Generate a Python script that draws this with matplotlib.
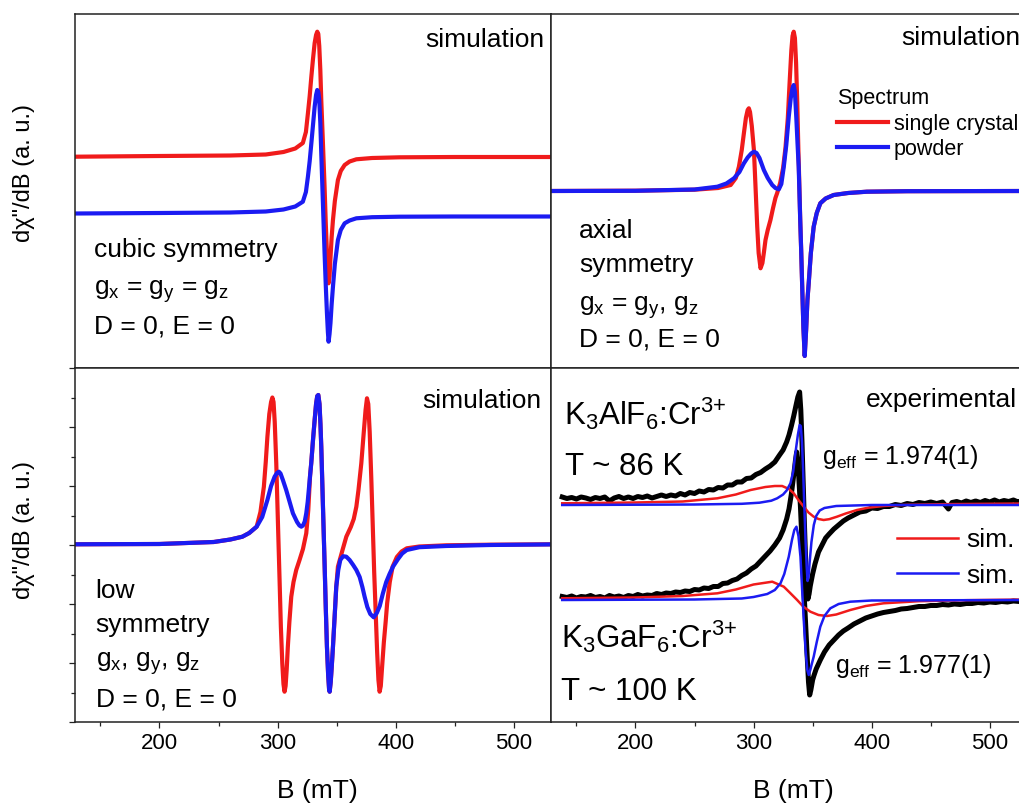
import matplotlib
matplotlib.use('Agg')
import matplotlib.pyplot as plt
from matplotlib.ticker import MultipleLocator

plt.rcParams['font.family'] = ['Liberation Sans', 'DejaVu Sans']
plt.rcParams['mathtext.fontset'] = 'custom'
plt.rcParams['mathtext.rm'] = 'Liberation Sans'
plt.rcParams['mathtext.it'] = 'Liberation Sans'
plt.rcParams['mathtext.bf'] = 'Liberation Sans:bold'

# ---------------- data (B in mT, intensity in arbitrary units) ----------------
B_RANGE = (128.5, 531.5)
Y_RANGE = (0, 354)

# cubic symmetry (top-left)
cubic_B = [128.5, 200, 260, 290, 305, 315, 321.4, 324, 325.7, 327.2, 328.6, 330, 331.4, 332.6,
           333.6, 334.5, 335.3, 336.2, 337.0, 338.4, 339.8, 340.8, 341.8, 342.6, 343.2, 344.0,
           344.8, 345.8, 346.9, 348.5, 351.1, 353.5, 356.8, 361, 366.7, 380, 403.4, 450, 531.5]
cubic_single = [211.3, 212, 212.5, 213.5, 216, 219.5, 225, 236, 254.7, 272, 291.3, 309, 325, 333,
                336.3, 334, 322, 298, 268, 225, 181.3, 145, 115, 92, 84.7, 92, 110, 131, 148, 167,
                188, 197, 203, 206.5, 208.7, 210, 210.7, 211, 211]
cubic_powder = [154.5, 155, 155.5, 156.5, 158.5, 161.5, 166.3, 176, 191.3, 207, 224.7, 243, 261.3,
                273, 278, 276, 268, 245, 214.7, 165, 115, 83, 55, 36, 26.3, 34, 45, 64, 81.3, 104,
                128, 138, 144.7, 147.5, 149.7, 150.8, 151.3, 151.5, 151.5]

# axial symmetry (top-right)
axial_single_B = [128.5, 200, 250, 270, 280.6, 285, 287.6, 290, 291.8, 293.5, 295, 296, 297, 298.5,
                  300.3, 301.7, 303.1, 304.3, 305.9, 307.5, 308.8, 310.1, 312, 314.3, 316.5, 318.5,
                  320, 322.5, 325, 327, 329, 330.5, 332, 333, 334, 335, 336, 337, 338, 338.6, 339.5,
                  340.3, 341.1, 342.2, 343.3, 344.5, 345.6, 346.7, 348.5, 350.9, 353.5, 356.5, 361,
                  367.8, 380, 395.9, 430, 531.5]
axial_single = [177, 177.3, 178.3, 180, 183, 190, 201.3, 218, 234.7, 250, 258, 259.7, 256, 242, 218,
                180, 141.3, 115, 99.7, 105, 116, 128, 138, 148, 160, 170, 175, 185, 200, 220, 250,
                285, 318, 332, 336.3, 330, 305, 265, 215, 190, 148, 118, 84.7, 40, 12, 38, 68, 85,
                115, 141.3, 155, 164.7, 169.5, 173, 175, 176.3, 176.8, 177]
axial_powder_B = [128.5, 200, 250, 269.4, 277, 283.4, 288, 291.8, 295, 298, 300.3, 302.5, 305, 308.7,
                  312, 315.8, 318.5, 321.4, 323.5, 325.6, 327.7, 329.8, 331.5, 333, 334, 335, 336.2,
                  337.2, 338.2, 339.5, 340.3, 341.1, 342.2, 343.3, 344.5, 345.6, 346.7, 348.5, 350.9,
                  353.5, 356.5, 361, 367.8, 380, 395.9, 430, 531.5]
axial_powder = [177, 177.2, 178.5, 181.3, 184.5, 189.7, 196, 204.7, 210.5, 214.5, 216.3, 215, 210,
                198, 190, 183, 180, 178.7, 184, 201.3, 223, 251.3, 270, 280, 283, 276, 250, 225,
                201.3, 148, 118, 84.7, 40, 12, 38, 68, 85, 115, 141.3, 155, 164.7, 169.5, 173, 175,
                176.3, 176.8, 177]

# low symmetry (bottom-left)
low_single_B = [128.5, 200, 246, 260, 270.2, 276, 282.3, 285.5, 288.4, 290, 291.4, 293, 294.5, 295.6,
                296.6, 297.6, 298.9, 300.3, 301.7, 302.8, 304, 305, 305.9, 306.8, 307.7, 308.7, 310,
                311.6, 313.5, 315.8, 318.6, 321.5, 324.3, 326, 327.5, 328.5, 330, 331.4, 332.6,
                333.6, 334.5, 335.5, 336.3, 337, 338.4, 339.8, 340.8, 341.8, 342.8, 343.6, 344.1,
                345, 345.9, 346.9, 348.3, 349.7, 351.1, 355, 358.2, 362, 364.5, 366.7, 368.5, 370.9,
                373, 374.5, 375.7, 376.8, 378, 379.4, 380.5, 381.8, 383.1, 384.3, 385.4, 386.4,
                387.4, 388.5, 390, 391.5, 392.8, 395, 397.4, 401, 405, 409.4, 420, 442.7, 480, 531.5]
low_single = [177.7, 178, 180, 182.5, 185.3, 189, 195.3, 210, 235.3, 260, 285.3, 308, 320, 324.5,
              320, 300, 258.7, 200, 142, 95, 58.7, 38, 30.3, 36, 52, 75.3, 100, 125.3, 140, 152,
              162, 173, 188.7, 212, 246, 258.7, 282, 302, 318, 326, 327, 318, 298, 275.3, 217,
              158.7, 115, 75.3, 48, 33, 30.3, 40, 56, 75.3, 105, 135.3, 155.3, 172, 185.3, 195,
              203, 215.3, 232, 258.7, 290, 312, 323.7, 318, 290, 242, 200, 150, 108.7, 70, 42,
              30.3, 36, 55, 80, 100, 119, 140, 155.3, 165, 170.5, 173.7, 175.5, 176.7, 177.3, 177.7]
low_powder_B = [128.5, 200, 246, 260, 270.2, 276, 282.3, 287, 291.4, 294.5, 297.5, 299.5, 301.1,
                302.5, 304.5, 307.3, 310, 313, 316.5, 318.5, 320.1, 321.5, 323, 324.3, 325.5, 326.5,
                327.5, 328.5, 330, 331.4, 332.6, 333.6, 334.5, 335.5, 336.3, 337, 338.4, 339.8,
                340.8, 341.8, 342.8, 343.6, 344.1, 345, 345.9, 346.9, 348.3, 349.7, 351.4, 353.1,
                355.5, 358.2, 361, 364, 366.7, 369.5, 371.8, 373.7, 376, 378.5, 381.4, 384, 386.5,
                389.2, 392, 394.8, 397.7, 402, 405.5, 409.4, 420, 442.7, 480, 531.5]
low_powder = [177.7, 178, 180, 182.5, 185.3, 189, 195.3, 205, 222, 236, 245.3, 249, 250.3, 248.5,
              242, 232, 221, 208.7, 200, 196.5, 195.3, 196.5, 200.5, 208.7, 220, 233, 246, 258.7,
              282, 302, 318, 326, 327, 318, 298, 275.3, 217, 158.7, 115, 75.3, 48, 33, 30.3, 40,
              56, 75.3, 105, 135.3, 152, 162, 165.8, 165.3, 162, 157, 152, 145, 135, 125.3, 115,
              108, 104.7, 109, 116, 128.7, 140, 148, 155.3, 163, 168.5, 172, 174.8, 176, 177, 177.6]

# experimental (bottom-right): K3AlF6:Cr3+ (upper) and K3GaF6:Cr3+ (lower)
alf_exp_B = [138, 142, 146, 150, 154, 158, 162, 166, 170, 174, 178, 182, 186, 190, 194, 198, 202,
             206, 210, 214, 218, 222, 226, 230, 234, 238, 242, 246, 250, 254, 258, 262, 266, 270,
             274, 278, 282, 286, 290, 294, 298, 302, 306, 310, 314, 318, 322, 325, 328, 330, 332,
             334, 336, 337.5, 339, 340, 341, 342, 343, 344, 345, 346, 347, 348, 350, 352, 355, 358,
             361, 364, 368, 372, 376, 380, 385, 390, 395, 400, 405, 410, 415, 420, 425, 430, 435,
             440, 445, 450, 455, 460, 465, 468, 472, 476, 480, 484, 488, 492, 496, 500, 504, 508,
             512, 516, 520, 524, 528, 532]
alf_exp = [225, 223.5, 224.5, 223, 225, 224, 222.5, 224.5, 223.5, 225, 221, 224, 225.5, 223.5, 225,
           223.5, 225.5, 224.5, 226, 224, 225.5, 227, 225.5, 227, 226, 228.5, 227, 229.5, 228.5,
           231, 230, 232.5, 232, 234.5, 234, 237, 237, 240, 240, 243.5, 244, 247.5, 249.5, 253,
           256, 260, 267, 272, 280, 287, 296, 306, 317, 325, 330, 312, 280, 240, 200, 165, 135,
           123, 128, 136, 148, 158, 170, 177, 184, 188, 193, 197, 201, 204, 207, 210, 211, 214,
           213.5, 215.5, 215.5, 217.5, 216.5, 218.5, 217.5, 219.5, 218.5, 220, 218.5, 220, 213,
           219.5, 220.5, 219, 221, 219.5, 221, 219.5, 221.5, 220, 222, 220, 221.5, 220.5, 222,
           220, 221.5, 220.5]
gaf_exp_B = [138, 142, 146, 150, 154, 158, 162, 166, 170, 174, 178, 182, 186, 190, 194, 198, 202,
             206, 210, 214, 218, 222, 226, 230, 234, 238, 242, 246, 250, 254, 258, 262, 266, 270,
             274, 278, 282, 286, 290, 294, 298, 302, 306, 310, 314, 318, 322, 325, 328, 330, 332,
             334, 335.5, 336.5, 337.5, 338.5, 339.7, 341, 342.5, 344, 345.3, 346.5, 347.5, 348.5,
             350, 351, 353, 356.5, 360, 364, 368, 372, 376, 380, 385, 390, 395, 400, 405, 410, 415,
             420, 425, 430, 435, 440, 445, 450, 455, 460, 465, 470, 475, 480, 485, 490, 495, 500,
             505, 510, 515, 520, 525, 530]
gaf_exp = [125.5, 124.5, 126, 124, 125.5, 125, 126.5, 124.5, 125.5, 124, 126.5, 125, 126, 124.5,
           126.5, 125.5, 127.5, 126, 127, 126.5, 128.5, 127.5, 129, 128.5, 130, 129.5, 131, 130.5,
           132.5, 132, 134, 133.5, 135.5, 135.5, 138.5, 139, 141.5, 143, 146.5, 149, 153, 156, 161,
           166, 171, 177, 184, 192, 203, 213, 228, 247, 262, 270, 262, 240, 215, 180, 135, 100, 68,
           40, 27, 32, 42, 46, 53, 62, 70, 77, 82, 87, 91, 94, 98, 101, 104, 106, 108, 109.5, 110.5,
           111.5, 113, 113.5, 114.5, 115.5, 115.5, 116.5, 116.5, 117.5, 117, 118, 117.5, 118.5,
           118.5, 119.5, 119, 120, 119.5, 120.5, 120, 121, 120.5, 121.5]

alf_sim1_B = [138, 200, 240, 269.4, 285, 297.5, 310, 318, 324.2, 330, 334, 338, 342.5, 346.5, 350.9,
              355, 359.3, 364, 370.6, 378, 387.5, 397, 410, 430, 460, 500, 532]
alf_sim1 = [218.7, 219.5, 220.5, 223.7, 227.5, 232, 235, 236, 236, 233, 228.7, 222, 215.3, 209.5,
            205.3, 203, 202, 202.8, 205.3, 208.5, 212, 214.3, 216, 217.2, 217.8, 218.2, 218.5]
alf_sim2_B = [138, 250, 290, 305, 315, 320, 325, 328, 331.2, 333.5, 335.4, 337.5, 339, 340, 341, 342,
              343, 344, 345, 345.7, 346.5, 347.5, 349, 351, 353, 356, 360, 370, 400, 532]
alf_sim2 = [217, 217.5, 218.2, 219.3, 221.3, 223.7, 227.5, 231.5, 238.7, 250, 268.7, 287, 297, 296,
            280, 250, 215, 182, 155, 141, 145, 160, 180, 197, 206, 211.5, 214, 216, 217, 217]
gaf_sim1_B = [138, 200, 240, 269.4, 285, 300, 315.8, 325.6, 331, 336.9, 342, 348.1, 355, 362.2, 370,
              381.9, 395, 410, 440, 480, 532]
gaf_sim1 = [123.7, 124.5, 126, 128.7, 132.5, 137.5, 140.3, 135.3, 129, 122, 115.5, 110.3, 107, 106,
            107.5, 112, 116, 118.7, 120.8, 121.8, 122.5]
gaf_sim2_B = [138, 250, 290, 300, 311.6, 318, 322.8, 326, 329.8, 332.5, 334.5, 336.3, 338, 339.7, 341,
              342.5, 344, 345.5, 346.7, 348, 349.5, 350.9, 353.5, 356.5, 360, 365, 372, 381.9, 400, 532]
gaf_sim2 = [122, 122.5, 123.5, 125, 128, 132, 138.7, 148, 165.3, 182, 192, 195.3, 186, 165.3, 135,
            102, 72, 52, 47, 52, 59, 65.3, 80, 95.3, 106, 113.7, 118, 120.3, 121.5, 122]

RED = '#f01b1b'
BLUE = '#1b1bf2'

# ---------------- figure ----------------
W, H = 1020, 806
fig = plt.figure(figsize=(W / 100, H / 100), dpi=100)


def rect(x0, y0, x1, y1):
    return [x0 / W, 1 - y1 / H, (x1 - x0) / W, (y1 - y0) / H]


def ftext(x, y, s, **kw):
    kw.setdefault('fontsize', 19)
    kw.setdefault('va', 'baseline')
    fig.text(x / W, 1 - y / H, s, **kw)


axTL = fig.add_axes(rect(75, 14, 551, 368))
axTR = fig.add_axes(rect(551, 14, 1027, 368))
axBL = fig.add_axes(rect(75, 368, 551, 722))
axBR = fig.add_axes(rect(551, 368, 1027, 722))

for ax in (axTL, axTR, axBL, axBR):
    ax.set_xlim(B_RANGE)
    ax.set_ylim(Y_RANGE)
    ax.xaxis.set_major_locator(MultipleLocator(100))
    ax.xaxis.set_minor_locator(MultipleLocator(50))
    ax.tick_params(axis='x', which='both', direction='out', top=False, width=0.9,
                   labelsize=16, pad=4, color='#222222')
    ax.tick_params(axis='x', which='major', length=4.2)
    ax.tick_params(axis='x', which='minor', length=3.2)
    for sp in ax.spines.values():
        sp.set_linewidth(1.1)
        sp.set_color('#222222')
    ax.set_yticks([])

for ax in (axTL, axTR):
    ax.tick_params(axis='x', which='both', labelbottom=False)

axBL.yaxis.set_major_locator(MultipleLocator(59))
axBL.yaxis.set_minor_locator(MultipleLocator(29.5))
axBL.tick_params(axis='y', which='both', direction='out', labelleft=False, width=0.9, color='#222222')
axBL.tick_params(axis='y', which='major', length=4.2)
axBL.tick_params(axis='y', which='minor', length=3.2)

LW = 3.0
axTL.plot(cubic_B, cubic_single, color=RED, lw=LW, solid_joinstyle='round')
axTL.plot(cubic_B, cubic_powder, color=BLUE, lw=LW, solid_joinstyle='round')

axTR.plot(axial_single_B, axial_single, color=RED, lw=LW, solid_joinstyle='round', label='single crystal')
axTR.plot(axial_powder_B, axial_powder, color=BLUE, lw=LW, solid_joinstyle='round', label='powder')
axTR.legend(loc='upper left', bbox_to_anchor=(0.601, 0.791), title='Spectrum', frameon=False,
            fontsize=15.5, title_fontsize=15.5, handlelength=2.35, handletextpad=0.28,
            labelspacing=0.21, borderpad=0, borderaxespad=0, alignment='left')

axBL.plot(low_single_B, low_single, color=RED, lw=LW, solid_joinstyle='round')
axBL.plot(low_powder_B, low_powder, color=BLUE, lw=LW, solid_joinstyle='round')

axBR.plot(alf_exp_B, alf_exp, color='black', lw=3.6, solid_joinstyle='round')
axBR.plot(gaf_exp_B, gaf_exp, color='black', lw=3.6, solid_joinstyle='round')
axBR.plot(alf_sim1_B, alf_sim1, color=RED, lw=1.8, label='sim.')
axBR.plot(alf_sim2_B, alf_sim2, color=BLUE, lw=1.8, label='sim.')
axBR.plot(gaf_sim1_B, gaf_sim1, color=RED, lw=1.8)
axBR.plot(gaf_sim2_B, gaf_sim2, color=BLUE, lw=1.8)
axBR.legend(loc='upper left', bbox_to_anchor=(0.726, 0.548), frameon=False, fontsize=19,
            handlelength=2.33, handletextpad=0.32, labelspacing=0.44, borderpad=0, borderaxespad=0)

# ---------------- texts ----------------
ftext(544, 46.7, 'simulation', ha='right')
ftext(93.6, 256.7, 'cubic symmetry')
ftext(93.6, 295, 'g$_x$ = g$_y$ = g$_z$')
ftext(93.6, 333.3, 'D = 0, E = 0')

ftext(901.7, 45, 'simulation')
ftext(579, 238.3, 'axial')
ftext(579, 271.7, 'symmetry')
ftext(579, 310.5, 'g$_x$ = g$_y$, g$_z$')
ftext(579, 346.7, 'D = 0, E = 0')

ftext(541, 408.3, 'simulation', ha='right')
ftext(95.7, 598.3, 'low')
ftext(95.7, 631.7, 'symmetry')
ftext(95.7, 666.7, 'g$_x$, g$_y$, g$_z$')
ftext(95.7, 706.7, 'D = 0, E = 0')

ftext(1016.7, 406.7, 'experimental', ha='right')
ftext(564, 425, 'K$_3$AlF$_6$:Cr$^{3{+}}$', fontsize=22.5)
ftext(565, 475, 'T ~ 86 K', fontsize=22.5)
ftext(821.7, 464.3, 'g$_{eff}$ = 1.974(1)', fontsize=18)
ftext(560.7, 647.7, 'K$_3$GaF$_6$:Cr$^{3{+}}$', fontsize=22.5)
ftext(560.7, 700, 'T ~ 100 K', fontsize=22.5)
ftext(835, 673.3, 'g$_{eff}$ = 1.977(1)', fontsize=18)

ftext(24, 173, 'd\u03c7"/dB (a. u.)', rotation=90, ha='center', va='center', fontsize=17)
ftext(24, 530, 'd\u03c7"/dB (a. u.)', rotation=90, ha='center', va='center', fontsize=17)
ftext(317, 791, 'B (mT)', ha='center', va='center')
ftext(793, 791, 'B (mT)', ha='center', va='center')

fig.savefig('out.png', dpi=100)
